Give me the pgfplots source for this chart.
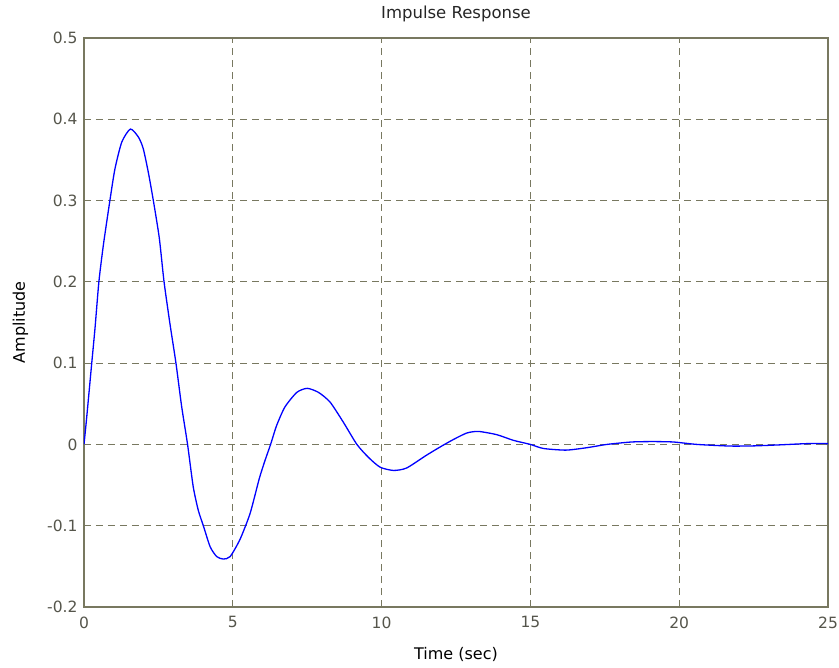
\documentclass[border=0pt]{standalone}
\usepackage{pgfplots}
\pgfplotsset{compat=1.18}
\usepackage{fontspec}
\setmainfont{DejaVu Sans}
\definecolor{axcol}{RGB}{120,120,96}
\definecolor{tickcol}{RGB}{85,85,75}
\begin{document}
\begin{tikzpicture}
\path[use as bounding box] (-84bp,-61bp) rectangle (755bp,607bp);
\begin{axis}[
  scale only axis,
  width=744bp, height=569bp,
  xmin=0, xmax=25, ymin=-0.2, ymax=0.5,
  xtick={0,5,10,15,20,25},
  xticklabels={0,5,10,15,20,25},
  ytick={-0.2,-0.1,0,0.1,0.2,0.3,0.4,0.5},
  yticklabels={-0.2,-0.1,0,0.1,0.2,0.3,0.4,0.5},
  tick align=inside,
  major tick length=5bp,
  axis line style={axcol, line width=1.1bp},
  every tick/.style={axcol, line width=1.1bp},
  grid=major,
  major grid style={axcol, line width=1.1bp, dash pattern=on 7bp off 5bp},
  font=\fontsize{15.5bp}{18bp}\selectfont,
  xticklabel style={tickcol, yshift=-6bp},
  yticklabel style={tickcol, xshift=-3bp},
  title={Impulse Response},
  xlabel={Time (sec)},
  ylabel={Amplitude},
  title style={at={(0.5,1)}, anchor=base, yshift=14bp, text=black!85, font=\fontsize{16.5bp}{19bp}\selectfont},
  xlabel style={at={(0.5,0)}, anchor=base, yshift=-52bp, text=black, font=\fontsize{16bp}{19bp}\selectfont},
  ylabel style={at={(0,0.5)}, anchor=base, yshift=59bp, text=black, font=\fontsize{16bp}{19bp}\selectfont},
]
\addplot[blue, line width=1.3bp, smooth, tension=0.4] coordinates {
(0,0) (0.09,0.033) (0.26,0.1) (0.37,0.143) (0.5,0.2) (0.65,0.245)
(0.87,0.30) (1.04,0.339) (1.27,0.372) (1.56,0.388) (1.83,0.378)
(1.99,0.364) (2.16,0.335) (2.33,0.30) (2.53,0.254) (2.69,0.2)
(2.89,0.148) (3.09,0.1) (3.28,0.047) (3.48,0) (3.67,-0.052)
(3.84,-0.081) (4.01,-0.1) (4.24,-0.126) (4.46,-0.138) (4.68,-0.141)
(4.91,-0.138) (5.24,-0.117) (5.58,-0.085) (5.89,-0.042) (6.08,-0.02)
(6.27,0) (6.47,0.023) (6.75,0.046) (7.15,0.064) (7.5,0.069)
(7.88,0.064) (8.27,0.052) (8.72,0.027) (9.17,0) (9.56,-0.016)
(9.95,-0.028) (10.4,-0.032) (10.84,-0.029) (11.52,-0.013)
(12.02,-0.002) (12.41,0.006) (12.86,0.014) (13.25,0.016)
(13.87,0.012) (14.43,0.005) (15.0,0) (15.44,-0.005) (16.2,-0.007)
(16.9,-0.004) (17.57,0) (18.4,0.003) (19.1,0.0035) (19.8,0.003)
(20.6,0) (21.7,-0.002) (22.5,-0.0018) (23.4,-0.0005) (24.3,0.001)
(25,0.001)
};
\end{axis}
\end{tikzpicture}
\end{document}
